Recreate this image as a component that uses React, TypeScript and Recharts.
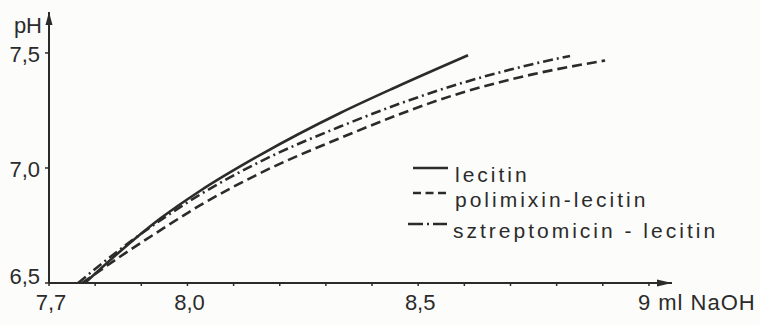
import React from "react";
import {
  LineChart,
  Line,
  XAxis,
  YAxis,
  Legend,
  ReferenceDot,
} from "recharts";

// titration curves: ml NaOH vs pH
const lecitinMl = [7.778, 7.85, 7.941, 8.027, 8.157, 8.331, 8.45, 8.608];
const lecitinPh = [6.5, 6.63, 6.78, 6.9, 7.056, 7.239, 7.35, 7.49];

const polimixinMl = [7.772, 7.85, 7.941, 8.027, 8.157, 8.331, 8.591, 8.75, 8.905];
const polimixinPh = [6.5, 6.609, 6.729, 6.837, 6.977, 7.13, 7.325, 7.408, 7.467];

const sztreptoMl = [7.763, 7.85, 7.941, 8.027, 8.157, 8.331, 8.591, 8.72, 8.829];
const sztreptoPh = [6.5, 6.64, 6.772, 6.884, 7.027, 7.18, 7.367, 7.438, 7.487];

const seriesNames = ["lecitin", "polimixin-lecitin", "sztreptomicin - lecitin"];

const xTicks = [7.7, 7.8, 7.9, 8.0, 8.1, 8.2, 8.3, 8.4, 8.5, 8.6, 8.7, 8.8, 8.9, 9.0];
const xTickLabels: Record<string, string> = { "7.7": "7,7", "8": "8,0", "8.5": "8,5", "9": "9" };
const yTicks = [6.5, 7.0, 7.5];
const yTickLabels = ["6,5", "7,0", "7,5"];

const xMax = 9.05;
const yMax = 7.678;

const toPoints = (xs: number[], ys: number[]) => xs.map((x, i) => ({ x, y: ys[i] }));

const INK = "#2b2b2b";
const FONT = "'Liberation Sans', Arial, sans-serif";

const XTick = (props: any) => {
  const { x, y, payload } = props;
  const key = String(Number(payload.value.toFixed(2)));
  const label = xTickLabels[key];
  if (!label) return null;
  if (label === "9") {
    return (
      <text x={x - 11} y={y + 22} fill={INK} fontSize={22} fontFamily={FONT} textAnchor="start" letterSpacing={1}>
        9 ml NaOH
      </text>
    );
  }
  return (
    <text x={x + 2} y={y + 22} fill={INK} fontSize={22} fontFamily={FONT} textAnchor="middle">
      {label}
    </text>
  );
};

const YTick = (props: any) => {
  const { x, y, index } = props;
  const dy = index === 0 ? 1 : 9;
  return (
    <text x={x - 2} y={y + dy} fill={INK} fontSize={22} fontFamily={FONT} textAnchor="end">
      {yTickLabels[index]}
    </text>
  );
};

const PhLabel = (props: any) => {
  const { viewBox } = props;
  return (
    <text x={viewBox.x + viewBox.width - 7} y={viewBox.y + 21} fill={INK} fontSize={22} fontFamily={FONT} textAnchor="end">
      pH
    </text>
  );
};

const ArrowRight = (props: any) => (
  <path d={`M${props.cx},${props.cy} L${props.cx - 15},${props.cy - 3.5} L${props.cx - 15},${props.cy + 3.5} Z`} fill={INK} />
);

const ArrowUp = (props: any) => (
  <path d={`M${props.cx},${props.cy} L${props.cx - 3.5},${props.cy + 13} L${props.cx + 3.5},${props.cy + 13} Z`} fill={INK} />
);

// hand-drawn style key with the line samples in front of the names
const legendRows = [
  { base: 32, x1: 8, x2: 43, dash: undefined, tx: 50 },
  { base: 57, x1: 8, x2: 45, dash: "8 4.5", tx: 50 },
  { base: 88, x1: 3, x2: 43, dash: "15 4 2 4 14", tx: 48 },
];

const KeyBox = () => (
  <svg width={350} height={110} style={{ display: "block" }}>
    {legendRows.map((r, i) => (
      <g key={i}>
        <line x1={r.x1} x2={r.x2} y1={r.base - 14} y2={r.base - 14} stroke={INK} strokeWidth={2.4} strokeDasharray={r.dash} />
        <text x={r.tx} y={r.base} fill={INK} fontSize={21} fontFamily={FONT} letterSpacing={3}>
          {seriesNames[i]}
        </text>
      </g>
    ))}
  </svg>
);

export default function App() {
  return (
    <div
      style={{
        position: "absolute",
        left: 0,
        top: 0,
        width: 760,
        height: 325,
        background: "#fcfcfa",
      }}
    >
      <LineChart width={760} height={325} margin={{ top: 12, right: 88, bottom: 0, left: 0 }}>
        <XAxis
          type="number"
          dataKey="x"
          domain={[7.7, xMax]}
          ticks={xTicks}
          interval={0}
          height={42}
          tickSize={3}
          tickMargin={2}
          axisLine={{ stroke: INK, strokeWidth: 2 }}
          tickLine={{ stroke: INK, strokeWidth: 1.5 }}
          tick={<XTick />}
          allowDataOverflow
        />
        <YAxis
          type="number"
          dataKey="y"
          domain={[6.5, yMax]}
          ticks={yTicks}
          interval={0}
          width={49}
          tickSize={4}
          tickMargin={3}
          axisLine={{ stroke: INK, strokeWidth: 2 }}
          tickLine={{ stroke: INK, strokeWidth: 1.5 }}
          tick={<YTick />}
          label={<PhLabel />}
          allowDataOverflow
        />
        <Line
          data={toPoints(lecitinMl, lecitinPh)}
          dataKey="y"
          name={seriesNames[0]}
          type="monotone"
          stroke={INK}
          strokeWidth={2.6}
          dot={false}
          isAnimationActive={false}
        />
        <Line
          data={toPoints(polimixinMl, polimixinPh)}
          dataKey="y"
          name={seriesNames[1]}
          type="monotone"
          stroke={INK}
          strokeWidth={2.6}
          strokeDasharray="10 5"
          dot={false}
          isAnimationActive={false}
        />
        <Line
          data={toPoints(sztreptoMl, sztreptoPh)}
          dataKey="y"
          name={seriesNames[2]}
          type="monotone"
          stroke={INK}
          strokeWidth={2.6}
          strokeDasharray="10 4 2 4"
          dot={false}
          isAnimationActive={false}
        />
        <ReferenceDot x={xMax} y={6.5} shape={<ArrowRight />} ifOverflow="visible" />
        <ReferenceDot x={7.7} y={yMax} shape={<ArrowUp />} ifOverflow="visible" />
        <Legend
          layout="vertical"
          align="center"
          verticalAlign="middle"
          content={<KeyBox />}
          wrapperStyle={{ position: "absolute", left: 405, top: 150, width: 350 }}
        />
      </LineChart>
    </div>
  );
}
